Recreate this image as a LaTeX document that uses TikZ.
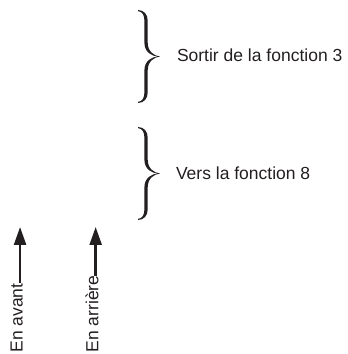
\documentclass[tikz,border=0pt]{standalone}
\usepackage{fontspec}
\setmainfont{Liberation Sans}
\usetikzlibrary{arrows.meta}
\definecolor{ink}{HTML}{231F20}
\tikzset{
  lbl/.style={inner sep=0pt, outer sep=0pt, text=ink, font=\fontsize{17.5}{21}\selectfont},
  vlbl/.style={lbl, rotate=90, anchor=base west},
  upar/.style={draw=ink, line width=2.4pt, -{Triangle[width=12pt,length=18pt]}},
  curlybrace/.pic={
    \fill[ink] (-22,46.5) .. controls (-16,46.4) and (-12.3,42) .. (-12.3,36)
      -- (-12.3,14) .. controls (-12.3,5) and (-6,0.6) .. (0,0)
      .. controls (-6,-0.6) and (-12.3,-5) .. (-12.3,-14)
      -- (-12.3,-36) .. controls (-12.3,-42) and (-16,-46.4) .. (-22,-46.5)
      -- (-22,-45.4) .. controls (-17.5,-45) and (-15.6,-41) .. (-15.6,-36)
      -- (-15.6,-14) .. controls (-15.6,-4) and (-8,-0.4) .. (-2.2,0)
      .. controls (-8,0.4) and (-15.6,4) .. (-15.6,14)
      -- (-15.6,36) .. controls (-15.6,41) and (-17.5,45) .. (-22,45.4) -- cycle;
  }
}
\begin{document}
\begin{tikzpicture}[x=1pt,y=1pt]
\useasboundingbox (0,0) rectangle (348,354);
\pic at (160,297.5) {curlybrace};
\pic at (160,180.5) {curlybrace};
\node[lbl, anchor=base west] (t1) at (177,292) {Sortir de la fonction 3};
\node[lbl, anchor=base west] (t2) at (176,174) {Vers la fonction 8};
\node[vlbl] (a1) at (22.7,1.5) {En avant};
\node[vlbl] (a2) at (98.3,1.5) {En arrière};
\coordinate (tip1) at (a1.mid east |- 0,127);
\coordinate (tip2) at (a2.mid east |- 0,127);
\draw[upar] (a1.mid east) -- (tip1);
\draw[upar] (a2.mid east) -- (tip2);
\end{tikzpicture}
\end{document}
